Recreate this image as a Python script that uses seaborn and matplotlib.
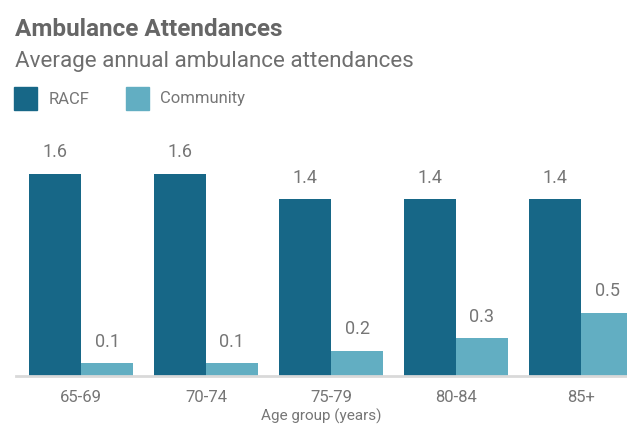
import matplotlib
matplotlib.use("Agg")
import matplotlib.pyplot as plt
from matplotlib.patches import Rectangle
import seaborn as sns
import pandas as pd

# Data
age_groups = ["65-69", "70-74", "75-79", "80-84", "85+"]
racf = [1.6, 1.6, 1.4, 1.4, 1.4]
community = [0.1, 0.1, 0.2, 0.3, 0.5]
series_names = ["RACF", "Community"]
colors = ["#176787", "#62aec2"]

df = pd.DataFrame({
    "Age group": age_groups * 2,
    "Attendances": racf + community,
    "Setting": [series_names[0]] * len(age_groups) + [series_names[1]] * len(age_groups),
})

sns.set_theme(style="white")
plt.rcParams["font.family"] = ["Roboto", "DejaVu Sans"]

W, H = 627, 426
fig = plt.figure(figsize=(W / 100, H / 100), dpi=100)
ax = fig.add_axes([16 / W, (H - 376) / H, 1 - 16 / W, (376 - 143) / H])

sns.barplot(data=df, x="Age group", y="Attendances", hue="Setting",
            palette=colors, width=0.832, dodge=True, ax=ax,
            saturation=1, legend=False, errorbar=None,
            edgecolor="none", linewidth=0)

label_color = "#767676"
for cont in ax.containers:
    ax.bar_label(cont, fmt="%.1f", padding=9, fontsize=13, color=label_color)

ax.set_xlim(-0.52, 4.368)
ax.set_ylim(0, 1.845)
ax.set_yticks([])
for s in ["top", "right", "left"]:
    ax.spines[s].set_visible(False)
ax.spines["bottom"].set_color("#d9d9d9")
ax.spines["bottom"].set_linewidth(2)
ax.tick_params(axis="x", length=0, pad=10, labelsize=12, labelcolor=label_color)
ax.set_xlabel("Age group (years)", fontsize=11, color=label_color, labelpad=3)
ax.set_ylabel("")

# Titles
fig.text(15 / W, 1 - 30 / H, "Ambulance Attendances", fontsize=17.5, fontweight="bold",
         color="#666666", va="center", ha="left")
fig.text(15 / W, 1 - 62 / H, "Average annual ambulance attendances", fontsize=16.1,
         color="#6e6e6e", va="center", ha="left")

# Legend
for i, (name, x0, tx) in enumerate([(series_names[0], 14, 49), (series_names[1], 126, 160)]):
    fig.patches.append(Rectangle((x0 / W, 1 - 110 / H), 23 / W, 23 / H,
                                 transform=fig.transFigure, color=colors[i]))
    fig.text(tx / W, 1 - 99 / H, name, fontsize=12, color=label_color, va="center", ha="left")

fig.savefig("out.png", dpi=100)
